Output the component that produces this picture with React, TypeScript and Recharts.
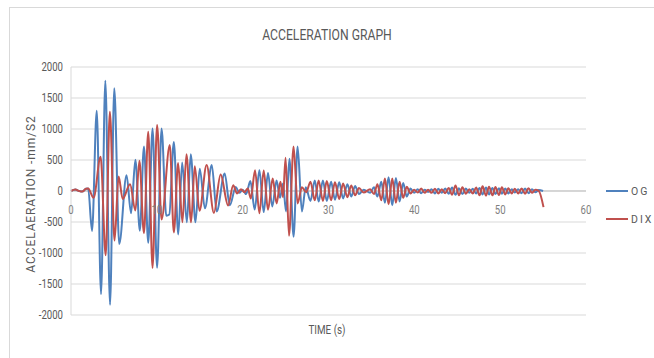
import React from "react";
import {
  LineChart,
  Line,
  XAxis,
  YAxis,
  CartesianGrid,
  ReferenceLine,
  ReferenceDot,
  Legend
} from "recharts";

// peaks / troughs (time in s, acceleration in mm/s2)
const ogTime = [
  0, 0.5, 0.95, 1.3, 1.75, 2.0, 2.45, 3.0, 3.5, 4.0,
  4.55, 5.04, 5.62, 6.47, 7.0, 7.5, 8.02, 8.5, 9.0, 9.5,
  10.03, 10.55, 11.1, 11.45, 11.98, 12.5, 12.95, 13.5, 13.95, 14.5,
  15.0, 15.6, 16.4, 16.97, 17.9, 18.5, 19.2, 19.6, 20.0, 20.4,
  20.9, 21.4, 21.95, 22.45, 22.95, 23.45, 23.95, 24.35, 24.7, 25.05,
  25.45, 25.93, 26.4, 26.9, 27.35, 27.9, 28.4, 28.85, 29.35, 29.8,
  30.3, 30.75, 31.25, 31.7, 32.2, 32.65, 33.1, 33.55, 34.1, 34.85,
  35.3, 35.7, 36.15, 36.57, 37.0, 37.43, 37.85, 38.28, 38.7, 39.12,
  39.55, 39.98, 40.4, 40.8, 41.2, 41.6, 42.0, 42.4, 42.8, 43.2,
  43.6, 44.0, 44.4, 44.8, 45.2, 45.6, 46.0, 46.4, 46.8, 47.2,
  47.6, 47.95, 48.35, 48.7, 49.1, 49.45, 49.85, 50.2, 50.6, 50.95,
  51.35, 51.7, 52.1, 52.5, 52.9, 53.3, 53.7, 54.1, 54.5, 55.0
];
const ogAccel = [
  0, 25, 0, -10, 35, 40, -645, 1296, -1665, 1780,
  -1835, 1659, -855, 255, -360, 505, -640, 719, -835, 1010,
  -1238, 1010, -400, -380, 790, -700, 460, -505, 594, -505,
  360, -280, 418, -330, 282, -230, 65, -30, 20, -50,
  160, -300, 336, -340, 290, -250, 170, -110, 120, -330,
  520, -738, 717, -330, 60, -160, 170, -170, 170, -160,
  150, -140, 140, -120, 110, -90, 80, -50, 20, -30,
  60, -90, 150, -190, 220, -230, 210, -170, 130, -90,
  40, -30, 30, -35, 20, -15, 30, -40, 35, -30,
  40, -45, 55, -60, 45, -50, 40, -30, 35, -40,
  50, -55, 55, -55, 50, -50, 45, -45, 40, -40,
  30, -25, 30, -35, 40, -35, 30, -20, 15, 0
];

const dixTime = [
  0, 0.5, 0.95, 1.3, 1.75, 2.0, 2.63, 3.45, 4.04, 4.53,
  5.07, 5.55, 6.02, 6.88, 7.5, 7.97, 8.5, 9.0, 9.5, 10.03,
  10.55, 11.51, 11.98, 12.48, 12.98, 13.45, 13.99, 14.42, 14.97, 15.8,
  16.65, 17.43, 18.3, 18.9, 19.35, 19.8, 20.2, 20.6, 20.95, 21.44,
  21.95, 22.45, 22.95, 23.5, 23.95, 24.4, 24.7, 25.0, 25.4, 25.93,
  26.4, 26.9, 27.4, 27.9, 28.4, 28.85, 29.35, 29.8, 30.3, 30.75,
  31.25, 31.7, 32.2, 32.65, 33.1, 33.55, 34.1, 34.85, 35.3, 35.7,
  36.15, 36.57, 37.0, 37.43, 37.85, 38.28, 38.7, 39.12, 39.55, 39.98,
  40.4, 40.8, 41.2, 41.6, 42.0, 42.4, 42.8, 43.2, 43.6, 44.0,
  44.4, 44.8, 45.2, 45.6, 46.0, 46.4, 46.8, 47.2, 47.6, 47.95,
  48.35, 48.7, 49.1, 49.45, 49.85, 50.2, 50.6, 50.95, 51.35, 51.7,
  52.1, 52.5, 52.9, 53.3, 53.7, 54.1, 54.5, 55.05
];
const dixAccel = [
  0, 25, 0, -10, 35, 40, -108, 551, -1037, 1280,
  -800, 233, -128, 108, -315, 486, -680, 956, -1240, 1064,
  -460, 740, -668, 450, -505, 594, -505, 400, -320, 418,
  -353, 266, -233, 92, -40, 30, -20, 40, -120, 336,
  -360, 330, -300, 200, -200, 150, -100, 537, -722, 717,
  -200, 60, -20, 150, -150, 170, -160, 160, -150, 140,
  -130, 120, -100, 90, -70, 50, -25, 30, -50, 110,
  -150, 200, -215, 200, -190, 150, -110, 70, -40, 20,
  -25, 40, -30, 20, -30, 35, -40, 30, -35, 50,
  -60, 90, -70, 60, -45, 30, -40, 55, -70, 75,
  -75, 70, -70, 65, -65, 60, -55, 45, -40, 35,
  -40, 40, -45, 45, -30, 20, 0, -260
];

const xTicks = [0, 10, 20, 30, 40, 50, 60];
const yTicks = [-2000, -1500, -1000, -500, 0, 500, 1000, 1500, 2000];

const seriesNames = ["OG", "DIX"];
const seriesColors = ["#4F81BD", "#C0504D"];

const ogData = ogTime.map((t, i) => ({ t, v: ogAccel[i] }));
const dixData = dixTime.map((t, i) => ({ t, v: dixAccel[i] }));

const FONT = "Roboto, 'Liberation Sans', sans-serif";
const TEXT = "#595959";

// Excel uses a narrow font, so squeeze the tick text sideways
function YTick(props: any) {
  const { x, y, payload } = props;
  return (
    <text
      x={x}
      y={y}
      dy="0.35em"
      textAnchor="end"
      fill={TEXT}
      fontSize={12}
      fontFamily={FONT}
      transform={`translate(${x} 0) scale(0.8 1) translate(${-x} 0)`}
    >
      {payload.value}
    </text>
  );
}

function XTickLabel(props: any) {
  const { viewBox, value } = props;
  const cx = viewBox.x + viewBox.width / 2;
  const cy = viewBox.y + viewBox.height / 2;
  return (
    <text
      x={cx}
      y={cy + 19}
      dy="0.35em"
      textAnchor="middle"
      fill="#7f7f7f"
      fontSize={12}
      fontFamily={FONT}
      transform={`translate(${cx} 0) scale(0.8 1) translate(${-cx} 0)`}
    >
      {value}
    </text>
  );
}

function LegendBox() {
  return (
    <div style={{ fontFamily: FONT, fontSize: 10.5, color: TEXT }}>
      {seriesNames.map((name, i) => (
        <div key={name} style={{ display: "flex", alignItems: "center", height: 28, whiteSpace: "nowrap" }}>
          <span style={{ width: 22, height: 2.5, background: seriesColors[i], marginRight: 3 }} />
          <span style={{ letterSpacing: 2 }}>{name}</span>
        </div>
      ))}
    </div>
  );
}

export default function App() {
  return (
    <>
      <style>{"html, body { overflow: hidden; }"}</style>
      <div
        style={{
          position: "absolute",
          left: 9,
          top: 7,
          width: 660,
          height: 360,
          borderTop: "1px solid #d9d9d9",
          borderLeft: "1px solid #d9d9d9",
          background: "#fff",
          fontFamily: FONT
        }}
      >
        <div
          style={{
            position: "absolute",
            left: 0,
            width: 634,
            top: 19,
            textAlign: "center",
            fontSize: 14.5,
            color: TEXT,
            transform: "scaleX(0.84)"
          }}
        >
          ACCELERATION GRAPH
        </div>
        <div
          style={{
            position: "absolute",
            left: 21,
            top: 186,
            transform: "translate(-50%, -50%) rotate(-90deg)",
            whiteSpace: "nowrap",
            fontSize: 12,
            letterSpacing: 0.9,
            color: TEXT
          }}
        >
          ACCELAERATION -mm/S2
        </div>
        <div
          style={{
            position: "absolute",
            left: 0,
            width: 634,
            top: 315,
            textAlign: "center",
            fontSize: 12,
            color: TEXT,
            transform: "scaleX(0.82)"
          }}
        >
          TIME (s)
        </div>

        <LineChart width={640} height={345} margin={{ top: 59, right: 64, left: 16, bottom: 38 }}>
          <CartesianGrid vertical={false} stroke="#d9d9d9" />
          <XAxis type="number" dataKey="t" domain={[0, 60]} ticks={xTicks} hide />
          <YAxis
            type="number"
            domain={[-2000, 2000]}
            ticks={yTicks}
            interval={0}
            width={45}
            tickLine={false}
            axisLine={{ stroke: "#d9d9d9" }}
            tick={<YTick />}
          />
          <ReferenceLine y={0} stroke="#bfbfbf" />
          {xTicks.map((t) => (
            <ReferenceDot
              key={t}
              x={t}
              y={0}
              r={0}
              fill="none"
              stroke="none"
              label={<XTickLabel value={String(t)} />}
            />
          ))}
          <Line
            data={ogData}
            dataKey="v"
            name="OG"
            type="monotone"
            stroke={seriesColors[0]}
            strokeWidth={2}
            dot={false}
            isAnimationActive={false}
          />
          <Line
            data={dixData}
            dataKey="v"
            name="DIX"
            type="monotone"
            stroke={seriesColors[1]}
            strokeWidth={2}
            dot={false}
            isAnimationActive={false}
          />
          <Legend
            layout="horizontal"
            verticalAlign="middle"
            content={() => <LegendBox />}
            wrapperStyle={{ left: 596, top: 169, width: 56 }}
          />
        </LineChart>
      </div>
    </>
  );
}
